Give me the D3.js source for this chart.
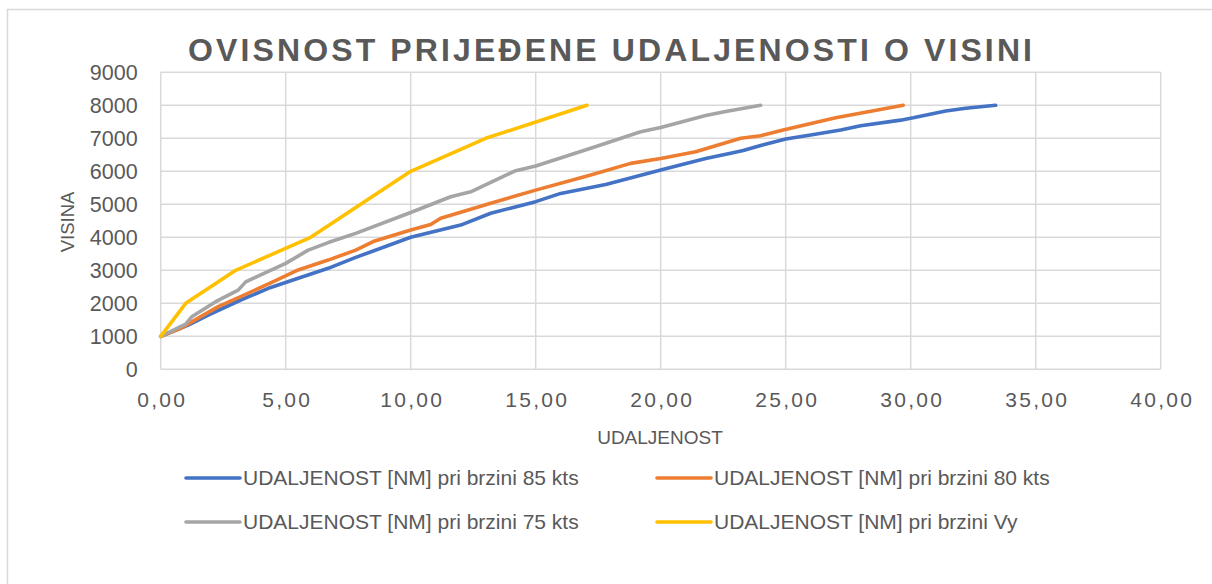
<!DOCTYPE html>
<html>
<head>
<meta charset="utf-8">
<script src="https://cdn.jsdelivr.net/npm/d3@7"></script>
<style>
  body { margin: 0; background: #ffffff; }
  svg { display: block; }
</style>
</head>
<body>
<svg id="chart" width="1212" height="584"></svg>
<script>
// ---- data ----
const titleText = "OVISNOST PRIJEĐENE UDALJENOSTI O VISINI";
const xAxisTitle = "UDALJENOST";
const yAxisTitle = "VISINA";
const xTicks = [0, 5, 10, 15, 20, 25, 30, 35, 40];
const yTicks = [0, 1000, 2000, 3000, 4000, 5000, 6000, 7000, 8000, 9000];
const seriesNames = [
  "UDALJENOST [NM] pri brzini 85 kts",
  "UDALJENOST [NM] pri brzini 80 kts",
  "UDALJENOST [NM] pri brzini 75 kts",
  "UDALJENOST [NM] pri brzini Vy"
];
const seriesColors = ["#4472C4", "#ED7D31", "#A5A5A5", "#FFC000"];

// [distance NM, altitude ft]
const s85 = [[0,1000],[1.1,1340],[1.9,1640],[3.2,2100],[4.4,2480],[5.5,2760],[6.7,3060],[7.2,3210],[7.8,3390],
  [10,4000],[12,4370],[13.2,4730],[15,5080],[16,5330],[17.8,5600],[20,6040],[21.8,6390],[22.8,6550],[23.3,6630],
  [24,6780],[25,6980],[26,7100],[27.2,7250],[28,7380],[29.6,7550],[30.1,7620],[31.4,7830],[32.2,7910],[33.4,8000]];
const s80 = [[0,1000],[0.8,1240],[1.5,1550],[2.3,1900],[3.2,2200],[4.4,2620],[5.5,3010],[6.7,3310],[7.8,3610],
  [8.5,3870],[10,4220],[10.8,4390],[11.2,4580],[13.2,5030],[15,5430],[17.2,5890],[18.8,6240],[20,6390],[21.4,6590],
  [23.2,7000],[24,7080],[24.9,7250],[27,7620],[29.7,8000]];
const s75 = [[0,1000],[1,1370],[1.24,1590],[2.2,2050],[3.1,2400],[3.4,2650],[5,3210],[5.9,3610],[6.7,3840],
  [7.8,4120],[10,4750],[11.6,5230],[12.4,5380],[14.2,6020],[15,6160],[17.2,6700],[19.2,7200],[20,7330],
  [21.8,7690],[22.6,7810],[24,8000]];
const sVy = [[0,1000],[1,2000],[3,3000],[6,4000],[8,5000],[10,6000],[13,7000],[17.05,8000]];
const seriesData = [s85, s80, s75, sVy];

// ---- drawing ----
const svg = d3.select("#chart");
const textColor = "#595959";
const gridColor = "#D9D9D9";
const font = "'Liberation Sans', Arial, sans-serif";

// outer chart border
svg.append("rect")
  .attr("x", 7.5).attr("y", 9.5).attr("width", 1240).attr("height", 600)
  .attr("fill", "#fff").attr("stroke", gridColor).attr("stroke-width", 1.5);

const x = d3.scaleLinear().domain([0, 40]).range([160.7, 1160.7]);
const y = d3.scaleLinear().domain([0, 9000]).range([369.3, 72.3]);

// gridlines
svg.append("g").selectAll("line.h").data(yTicks).join("line")
  .attr("x1", x(0)).attr("x2", x(40))
  .attr("y1", d => y(d)).attr("y2", d => y(d))
  .attr("stroke", gridColor).attr("stroke-width", 1.5);
svg.append("g").selectAll("line.v").data(xTicks).join("line")
  .attr("x1", d => x(d)).attr("x2", d => x(d))
  .attr("y1", y(0)).attr("y2", y(9000))
  .attr("stroke", gridColor).attr("stroke-width", 1.5);

// y axis labels
const yAxis = d3.axisLeft(y).tickValues(yTicks).tickSize(0).tickPadding(0).tickFormat(d3.format("d"));
const gy = svg.append("g").attr("transform", `translate(${x(0) - 23},0)`).call(yAxis);
gy.select(".domain").remove();
gy.selectAll("text").attr("fill", textColor).attr("font-family", font).attr("font-size", 21.5);

// x axis labels
const fmt = d => d3.format(".2f")(d).replace(".", ",");
const xAxis = d3.axisBottom(x).tickValues(xTicks).tickSize(0).tickPadding(0).tickFormat(fmt);
const gx = svg.append("g").attr("transform", `translate(1,${y(0) + 23})`).call(xAxis);
gx.select(".domain").remove();
gx.selectAll("text").attr("fill", textColor).attr("font-family", font).attr("font-size", 21)
  .attr("letter-spacing", "2.3px").attr("dy", "0.71em");

// series lines
const line = d3.line().x(d => x(d[0])).y(d => y(d[1])).curve(d3.curveLinear);
svg.append("g").selectAll("path").data(seriesData).join("path")
  .attr("d", line)
  .attr("fill", "none")
  .attr("stroke", (d, i) => seriesColors[i])
  .attr("stroke-width", 3.6)
  .attr("stroke-linejoin", "round")
  .attr("stroke-linecap", "round");

// title
svg.append("text")
  .attr("x", 188).attr("y", 61)
  .attr("textLength", 844).attr("lengthAdjust", "spacing")
  .attr("font-family", font).attr("font-size", 32).attr("font-weight", "bold")
  .attr("fill", textColor).text(titleText);

// axis titles
svg.append("text")
  .attr("x", 660).attr("y", 444).attr("text-anchor", "middle")
  .attr("font-family", font).attr("font-size", 19).attr("fill", textColor)
  .text(xAxisTitle);
svg.append("text")
  .attr("transform", `translate(74,222) rotate(-90)`).attr("text-anchor", "middle")
  .attr("font-family", font).attr("font-size", 18.5).attr("fill", textColor)
  .text(yAxisTitle);

// legend
const legendPos = [[186, 478], [657, 478], [186, 522], [657, 522]];
const lg = svg.append("g").selectAll("g").data(seriesNames).join("g")
  .attr("transform", (d, i) => `translate(${legendPos[i][0]},${legendPos[i][1]})`);
lg.append("line").attr("x1", 0).attr("x2", 54).attr("y1", 0).attr("y2", 0)
  .attr("stroke", (d, i) => seriesColors[i]).attr("stroke-width", 3.6).attr("stroke-linecap", "round");
lg.append("text").attr("x", 57).attr("y", 0).attr("dy", "0.35em")
  .attr("font-family", font).attr("font-size", 21).attr("fill", textColor)
  .text(d => d);
</script>
</body>
</html>
